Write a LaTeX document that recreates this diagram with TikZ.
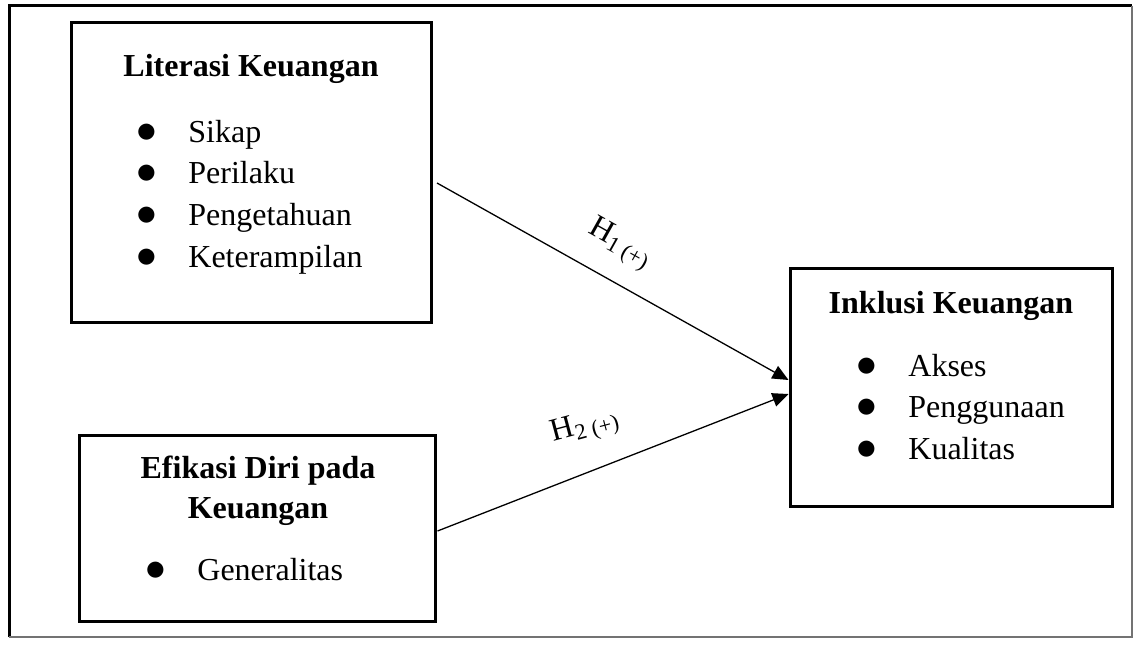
\documentclass[tikz,border=0pt]{standalone}
\usepackage{fontspec}
\setmainfont{Liberation Serif}
\usetikzlibrary{arrows.meta, calc, fit, positioning}
\tikzstyle{component} = [rectangle, draw, line width=1.5pt, inner sep=0pt]
\tikzstyle{judul} = [font=\fontsize{16}{20}\selectfont\bfseries, inner sep=0pt,
    anchor=base, align=center]
\tikzstyle{butir} = [font=\fontsize{16}{20}\selectfont, inner sep=0pt, anchor=base west]
\tikzstyle{line} = [draw, line width=0.65pt, -{Triangle[length=8pt, width=7pt]}]
\tikzstyle{hipotesis} = [font=\fontsize{16}{18}\selectfont, inner sep=0pt]
\newcommand{\bulet}[1]{\makebox[0pt]{\scalebox{1.2}{$\bullet$}}\hspace{21pt}#1}

\begin{document}
\begin{tikzpicture}[x=0.5pt, y=-0.5pt]
    \useasboundingbox (0,0) rectangle (1134,647);
    % Frame
    \draw[line width=1.5pt] (9,637) -- (9,6) -- (1132,6);
    \draw[line width=0.6pt, black!55] (1132,6) -- (1132,637) -- (9,637);
    % Nodes
    \node [component, fit={(71,23) (431,322)}] (literasi) {};
    \node [component, fit={(79,435) (435,621)}] (efikasi) {};
    \node [component, fit={(790,268) (1112,506)}] (inklusi) {};
    \node [judul] (judul-lit) at (251,77) {Literasi Keuangan};
    \node [butir] (sikap) at (146,142) {\bulet{Sikap}};
    \node [butir] (perilaku) at (146,183) {\bulet{Perilaku}};
    \node [butir] (pengetahuan) at (146,225) {\bulet{Pengetahuan}};
    \node [butir] (keterampilan) at (146,267) {\bulet{Keterampilan}};
    \node [judul] (judul-efi) at (258,518) {Efikasi Diri pada\\Keuangan};
    \node [butir] (generalitas) at (155,580) {\bulet{Generalitas}};
    \node [judul] (judul-ink) at (951,313) {Inklusi Keuangan};
    \node [butir] (akses) at (866,376) {\bulet{Akses}};
    \node [butir] (penggunaan) at (866,417) {\bulet{Penggunaan}};
    \node [butir] (kualitas) at (866,459) {\bulet{Kualitas}};
    % Edges
    \path[line] ([xshift=2.25pt, yshift=-5.25pt]literasi.east) -- ([yshift=3.5pt]inklusi.west)
        node [hipotesis, pos=0.463, xshift=10pt, yshift=15pt, rotate=-29.3] (h1) {H\textsubscript{1 (+)}};
    \path[line] ([xshift=0.5pt, yshift=-1.5pt]efikasi.east) -- ([yshift=-3.5pt]inklusi.west)
        node [hipotesis, pos=0.466, xshift=-7.8pt, yshift=20pt, rotate=15] (h2) {H\textsubscript{2 (+)}};
\end{tikzpicture}
\end{document}
